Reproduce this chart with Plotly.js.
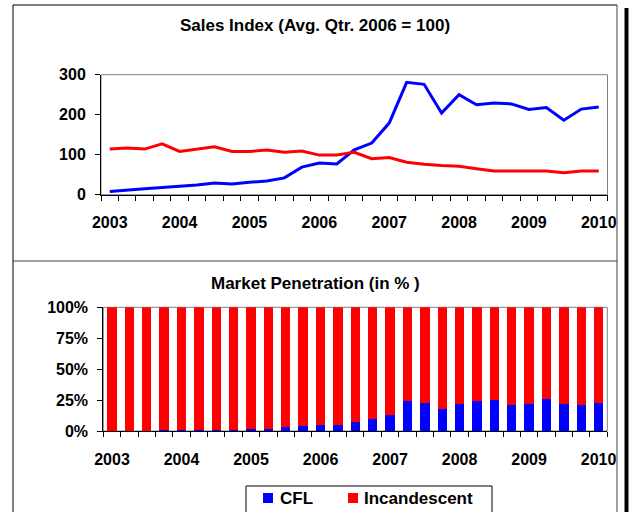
<!DOCTYPE html>
<html><head><meta charset="utf-8">
<script src="https://cdn.plot.ly/plotly-3.0.1.min.js"></script>
<style>html,body{margin:0;padding:0;background:#fff}#chart{width:629px;height:512px}</style>
</head><body><div id="chart"></div>
<script>
// Quarterly time positions (2003 Q1 .. 2010 Q1)
const quarters = [2003.00, 2003.25, 2003.50, 2003.75, 2004.00, 2004.25, 2004.50, 2004.75,
  2005.00, 2005.25, 2005.50, 2005.75, 2006.00, 2006.25, 2006.50, 2006.75,
  2007.00, 2007.25, 2007.50, 2007.75, 2008.00, 2008.25, 2008.50, 2008.75,
  2009.00, 2009.25, 2009.50, 2009.75, 2010.00];
const yearTicks = [2003, 2004, 2005, 2006, 2007, 2008, 2009, 2010];
const yearLabels = ["2003", "2004", "2005", "2006", "2007", "2008", "2009", "2010"];
const seriesNames = ["CFL", "Incandescent"];

// Sales index (Avg. Qtr. 2006 = 100)
const cflIndex = [8, 12, 15, 18, 21, 24, 29, 27, 31, 34, 42, 69, 79, 77, 112, 129, 179, 281, 276, 204, 250, 225, 229, 227, 213, 218, 186, 214, 219];
const incIndex = [114, 117, 114, 127, 108, 114, 120, 108, 108, 112, 106, 109, 99, 99, 106, 90, 93, 81, 76, 73, 71, 65, 59, 59, 59, 59, 55, 59, 59];

// Market penetration (%)
const cflShare = [0, 0, 0, 1, 1, 1, 1, 1, 2, 2, 3, 4, 5, 5, 7, 10, 13, 24, 23, 18, 22, 24, 25, 21, 22, 26, 22, 21, 23];
const incShare = [100, 100, 100, 99, 99, 99, 99, 99, 98, 98, 97, 96, 95, 95, 93, 90, 87, 76, 77, 82, 78, 76, 75, 79, 78, 74, 78, 79, 77];

const W = 629, H = 512;
const px = v => v / W;
const py = v => 1 - v / H;
const FONT = "Liberation Sans, Arial, sans-serif";
const BLUE = "#0000FF", RED = "#FF0000";
const colors = [BLUE, RED];

const traces = [
  {x: quarters, y: cflIndex, type: "scatter", mode: "lines", name: seriesNames[0],
   line: {color: BLUE, width: 3}, xaxis: "x", yaxis: "y", showlegend: false},
  {x: quarters, y: incIndex, type: "scatter", mode: "lines", name: seriesNames[1],
   line: {color: RED, width: 3}, xaxis: "x", yaxis: "y", showlegend: false},
  {x: quarters, y: cflShare, type: "bar", name: seriesNames[0], marker: {color: BLUE},
   xaxis: "x2", yaxis: "y2", showlegend: false},
  {x: quarters, y: incShare, type: "bar", name: seriesNames[1], marker: {color: RED},
   xaxis: "x2", yaxis: "y2", showlegend: false}
];

const tickFont = {family: FONT, size: 16, color: "#000", weight: "bold"};
const titleFont = {family: FONT, size: 17, color: "#000", weight: "bold"};
function xAxis(domain, anchor, standoff) {
  return {
    domain: domain, anchor: anchor, range: [2002.875, 2010.125],
    tickmode: "array", tickvals: yearTicks, ticktext: yearLabels,
    ticks: "", showgrid: false, zeroline: false,
    showline: true, linecolor: "#000", linewidth: 1,
    tickfont: tickFont, ticklabelstandoff: standoff,
    minor: {tick0: 2002.875, dtick: 0.25, ticks: "outside", ticklen: 5, tickcolor: "#000", tickwidth: 1, showgrid: false},
    fixedrange: true
  };
}

// legend drawn as a framed key below the bar chart
const legendShapes = [
  {type: "rect", xref: "paper", yref: "paper", x0: px(246), x1: px(492), y0: py(486), y1: py(530),
   line: {color: "#000", width: 1}, fillcolor: "#fff"},
  {type: "rect", xref: "paper", yref: "paper", x0: px(263), x1: px(273), y0: py(493), y1: py(503),
   line: {width: 0}, fillcolor: colors[0]},
  {type: "rect", xref: "paper", yref: "paper", x0: px(348), x1: px(358), y0: py(493), y1: py(503),
   line: {width: 0}, fillcolor: colors[1]}
];
const legendText = [
  {text: seriesNames[0], xref: "paper", yref: "paper", x: px(278), y: py(498.5), xanchor: "left", yanchor: "middle",
   showarrow: false, font: titleFont},
  {text: seriesNames[1], xref: "paper", yref: "paper", x: px(362), y: py(498.5), xanchor: "left", yanchor: "middle",
   showarrow: false, font: titleFont}
];

const layout = {
  width: W, height: H,
  margin: {l: 0, r: 0, t: 0, b: 0},
  paper_bgcolor: "#fff", plot_bgcolor: "#fff",
  font: {family: FONT, color: "#000"},
  showlegend: false,
  title: {text: "Sales Index (Avg. Qtr. 2006 = 100)", x: px(315), xanchor: "center",
          y: py(25), yanchor: "middle", font: titleFont},
  xaxis: xAxis([px(101), px(607.5)], "y", 13),
  yaxis: {domain: [py(194.7), py(74.7)], anchor: "x", range: [0, 300], dtick: 100,
          tickmode: "linear", tick0: 0, ticks: "outside", ticklen: 5, tickcolor: "#000",
          showgrid: false, zeroline: false, showline: true, linecolor: "#000", linewidth: 1,
          tickfont: tickFont, ticklabelstandoff: 6, fixedrange: true},
  xaxis2: xAxis([px(103.3), px(607.3)], "y2", 14),
  yaxis2: {domain: [py(431), py(307.3)], anchor: "x2", range: [0, 100], dtick: 25,
           tickmode: "linear", tick0: 0, ticksuffix: "%", ticks: "outside", ticklen: 5, tickcolor: "#000",
           showgrid: false, zeroline: false, showline: true, linecolor: "#000", linewidth: 1,
           tickfont: tickFont, ticklabelstandoff: 6, fixedrange: true},
  barmode: "stack", bargap: 0.46,
  annotations: [
    {text: "Market Penetration (in % )", xref: "paper", yref: "paper", x: px(316), y: py(283),
     xanchor: "center", yanchor: "middle", showarrow: false, font: titleFont}
  ].concat(legendText),
  shapes: [
    // plot area frames
    {type: "rect", xref: "x domain", yref: "y domain", x0: 0, x1: 1, y0: 0, y1: 1,
     line: {color: "#808080", width: 1}, layer: "below"},
    {type: "rect", xref: "x2 domain", yref: "y2 domain", x0: 0, x1: 1, y0: 0, y1: 1,
     line: {color: "#808080", width: 1}, layer: "below"},
    // outer chart frame
    {type: "line", xref: "paper", yref: "paper", x0: px(13), x1: px(617), y0: py(5), y1: py(5), line: {color: "#000", width: 1}},
    {type: "line", xref: "paper", yref: "paper", x0: px(13), x1: px(13), y0: py(5), y1: 0, line: {color: "#000", width: 1}},
    {type: "line", xref: "paper", yref: "paper", x0: px(617), x1: px(617), y0: py(5), y1: 0, line: {color: "#404040", width: 1}},
    {type: "line", xref: "paper", yref: "paper", x0: px(13), x1: px(617), y0: py(261), y1: py(261), line: {color: "#404040", width: 1}},
    {type: "line", xref: "paper", yref: "paper", x0: px(626.5), x1: px(626.5), y0: py(8), y1: 0, line: {color: "#000", width: 4}}
  ].concat(legendShapes)
};

Plotly.newPlot("chart", traces, layout, {displayModeBar: false, staticPlot: true});
</script>
</body></html>
